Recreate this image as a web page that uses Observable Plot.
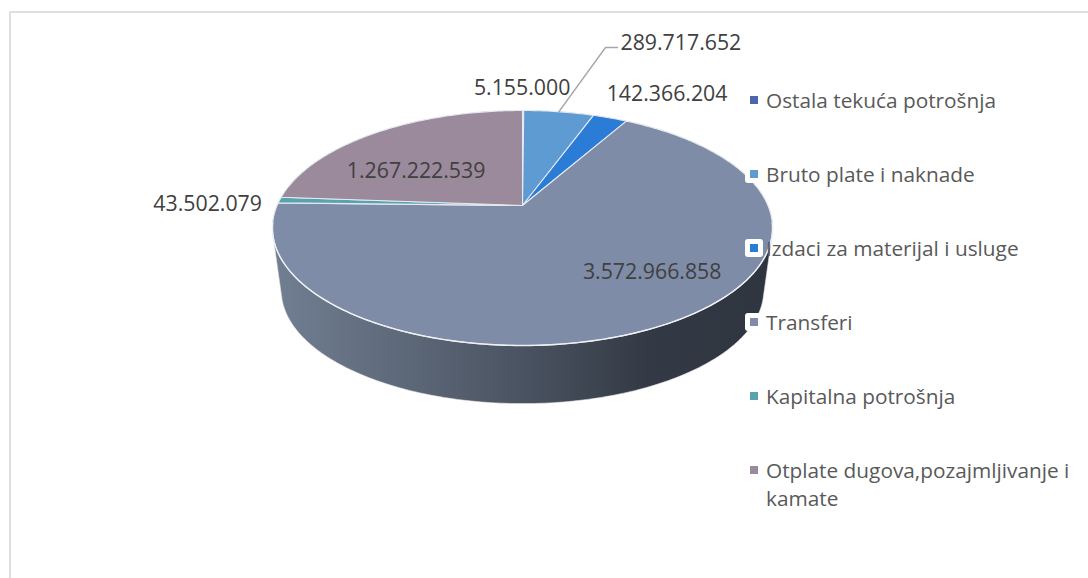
<!DOCTYPE html>
<html>
<head>
<meta charset="utf-8">
<script src="https://cdn.jsdelivr.net/npm/d3@7"></script>
<script src="https://cdn.jsdelivr.net/npm/@observablehq/plot@0.6"></script>
<style>
  html, body { margin: 0; padding: 0; background: #fff; overflow: hidden; }
  #chart { position: relative; width: 1088px; height: 578px; font-family: "Open Sans", sans-serif; }
  #chart svg { position: absolute; left: 0; top: 0; }
  #frame { position: absolute; left: 9px; top: 11px; right: 0; bottom: 0; border-left: 2px solid #dfdfdf; border-top: 2px solid #dfdfdf; }
  #legend { position: absolute; left: 745px; top: 0; width: 343px; color: #595959; font-size: 20.8px; line-height: 28px; }
  .item { position: absolute; left: 0; width: 340px; display: flex; align-items: flex-start; }
  .halo { width: 18px; height: 18px; margin-top: 5px; background: #fff; border-radius: 3px; display: flex; align-items: center; justify-content: center; flex: none; }
  .key { width: 8px; height: 8px; display: block; }
  .name { margin-left: 3px; width: 316px; }
</style>
</head>
<body>
<div id="chart"><div id="frame"></div></div>
<script>
const categories = ["Ostala tekuća potrošnja", "Bruto plate i naknade", "Izdaci za materijal i usluge", "Transferi", "Kapitalna potrošnja", "Otplate dugova,pozajmljivanje i kamate"];
const values = [5155000, 289717652, 142366204, 3572966858, 43502079, 1267222539];
const labels = ["5.155.000", "289.717.652", "142.366.204", "3.572.966.858", "43.502.079", "1.267.222.539"];
const colors = ["#4a66ac", "#5f9bd3", "#2a7cd6", "#7e8ca8", "#58a3ae", "#9a8a9c"];
const legendTops = [86, 160, 234, 308, 382, 456];
// label placement relative to each slice's rim midpoint, in pixels
const labelDx = [-1, 122, 57, 49, -72, -14];
const labelDy = [-22, -69, -24, 1, 4, 12];
const labelPull = [1, 1, 1, 0.6, 1, 0.6];

// perspective of the tilted pie
const k = 0.1915;
const project = (angle, r = 1, s = 1, drop = 0) => {
  const X = r * Math.sin(angle), Y = r * Math.cos(angle), w = 1 + k * Y;
  return {x: s * X / w, y: s * Y / w - drop};
};
const arcs = d3.pie().sort(null)(values);
const sample = (a0, a1) => d3.range(0, 1.0001, 1 / Math.max(2, Math.ceil((a1 - a0) * 60))).map(t => a0 + (a1 - a0) * t);
const slices = arcs.map(a => {
  const rim = sample(a.startAngle, a.endAngle).map(t => project(t));
  return [{x: 0, y: 0}, ...rim, {x: 0, y: 0}];
});

const circle = sample(0, 2 * Math.PI);
const hull = d3.polygonHull([
  ...circle.map(t => project(t)),
  ...circle.map(t => project(t, 1, 0.965, 0.5565))
].map(p => [p.x, p.y])).map(([x, y]) => ({x, y}));
hull.push(hull[0]);
const frontRim = sample(Math.PI / 2 + 0.15, 3 * Math.PI / 2 - 0.15).map(t => project(t));

const defs = () => {
  const svg = d3.create("svg:g");
  const g = svg.append("defs").append("linearGradient").attr("id", "side");
  [[0, "#727f93"], [0.5, "#4a5361"], [0.75, "#333a45"], [1, "#2f353f"]].forEach(([o, c]) =>
    g.append("stop").attr("offset", o).attr("stop-color", c));
  return svg.node();
};

const xRange = [522 - 245.4, 522 + 245.4];
const yRange = [205 + 113.2, 205 - 113.2];
const xInv = d3.scaleLinear().domain(xRange).range([-1, 1]);
const yInv = d3.scaleLinear().domain(yRange).range([-1, 1]);

const rimMid = arcs.map(a => project((a.startAngle + a.endAngle) / 2));
const labelMarks = arcs.map((a, i) => {
  const p = project((a.startAngle + a.endAngle) / 2, labelPull[i]);
  return Plot.text([labels[i]], {
    x: () => p.x, y: () => p.y, text: d => d,
    dx: labelDx[i], dy: labelDy[i],
    fontSize: 21.3, fill: "#404040"
  });
});

const leader = [rimMid[1], {x: xInv(605), y: yInv(47)}, {x: xInv(617), y: yInv(47)}];

const plot = Plot.plot({
  width: 1088, height: 578,
  margin: 0,
  style: {background: "transparent", fontFamily: '"Open Sans", sans-serif'},
  x: {axis: null, domain: [-1, 1], range: xRange},
  y: {axis: null, domain: [-1, 1], range: yRange},
  marks: [
    defs,
    Plot.line(hull, {x: "x", y: "y", fill: "url(#side)", stroke: "#e8e8e8", strokeWidth: 0.6}),
    ...slices.map((s, i) => Plot.line(s, {x: "x", y: "y", fill: colors[i], stroke: "#e6eaf0", strokeWidth: 1.1})),
    Plot.line(frontRim, {x: "x", y: "y", stroke: "#eef0f3", strokeWidth: 1.4}),
    Plot.line(leader, {x: "x", y: "y", stroke: "#a6a6a6", strokeWidth: 1.3}),
    ...labelMarks
  ]
});
const chart = document.getElementById("chart");
chart.appendChild(plot);

const legend = document.createElement("div");
legend.id = "legend";
categories.forEach((c, i) => {
  const item = document.createElement("div");
  item.className = "item";
  item.style.top = legendTops[i] + "px";
  item.innerHTML = `<span class="halo"><span class="key" style="background:${colors[i]}"></span></span><span class="name">${c}</span>`;
  legend.appendChild(item);
});
chart.appendChild(legend);
</script>
</body>
</html>
